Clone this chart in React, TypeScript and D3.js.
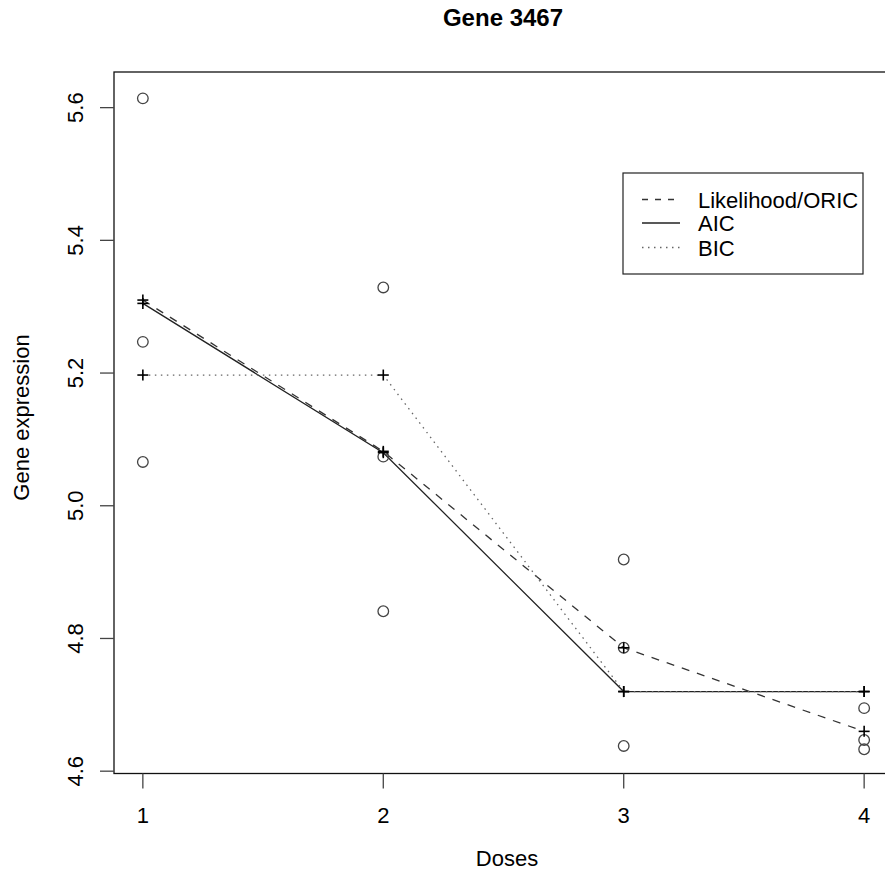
import React from "react";
import * as d3 from "d3";

// observed expression per dose
const doses = [1, 2, 3, 4];
const obsDose1 = [5.614, 5.247, 5.066];
const obsDose2 = [5.329, 5.074, 4.841];
const obsDose3 = [4.919, 4.786, 4.638];
const obsDose4 = [4.695, 4.647, 4.633];

// fitted curves
const fitOric = [5.31, 5.082, 4.786, 4.66];
const fitAic = [5.305, 5.08, 4.72, 4.72];
const fitBic = [5.197, 5.197, 4.72, 4.72];

const yTicks = [4.6, 4.8, 5.0, 5.2, 5.4, 5.6];
const xTicks = [1, 2, 3, 4];
const legendLabels = ["Likelihood/ORIC", "AIC", "BIC"];

const W = 885;
const H = 880;
const FONT = "'Liberation Sans', Arial, sans-serif";

export default function App() {
  const left = 114, right = 893, top = 72, bottom = 773.5;

  const x = d3.scaleLinear().domain([0.88, 4.12]).range([left, right]);
  const y = d3.scaleLinear().domain([4.5965, 5.6537]).range([bottom, top]);

  const obs = [obsDose1, obsDose2, obsDose3, obsDose4];
  const points = obs.flatMap((vals, i) => vals.map(v => ({ d: doses[i], v })));

  const line = d3.line<number>().x((_, i) => x(doses[i])).y(v => y(v));

  const fits = [
    { vals: fitOric, dash: "8,8", color: "#333", width: 1.3 },
    { vals: fitAic, dash: null, color: "#222", width: 1.3 },
    { vals: fitBic, dash: "1.5,4.5", color: "#666", width: 1.3 },
  ];

  const plus = (cx: number, cy: number, k: string) => (
    <g key={k} stroke="#000" strokeWidth={1.6}>
      <line x1={cx - 5.5} x2={cx + 5.5} y1={cy} y2={cy} />
      <line x1={cx} x2={cx} y1={cy - 5.5} y2={cy + 5.5} />
    </g>
  );

  const legX = 623, legY = 173, legW = 240, legH = 101;
  const rowY = [199.5, 223, 247.5];

  return (
    <svg width={W} height={H} style={{ position: "absolute", left: 0, top: 0, background: "#fff" }} fontFamily={FONT}>
      <rect x={0} y={0} width={W} height={H} fill="#fff" />

      <text x={503} y={26} textAnchor="middle" fontSize={24} fontWeight="bold">Gene 3467</text>

      {/* fitted lines */}
      {fits.map((f, i) => (
        <path key={i} d={line(f.vals) || ""} fill="none" stroke={f.color}
          strokeWidth={f.width} strokeDasharray={f.dash || undefined} />
      ))}

      {/* observations */}
      {points.map((p, i) => (
        <circle key={i} cx={x(p.d)} cy={y(p.v)} r={5.3} fill="none" stroke="#444" strokeWidth={1.3} />
      ))}

      {/* fitted points */}
      {fits.map((f, i) => f.vals.map((v, j) => plus(x(doses[j]), y(v), `${i}-${j}`)))}

      {/* box */}
      <rect x={left} y={top} width={right - left} height={bottom - top} fill="none" stroke="#111" strokeWidth={1.3} />

      {/* x axis */}
      {xTicks.map(t => (
        <g key={t}>
          <line x1={x(t)} x2={x(t)} y1={bottom} y2={bottom + 15} stroke="#444" strokeWidth={1.3} />
          <text x={x(t)} y={822.5} textAnchor="middle" fontSize={22}>{t}</text>
        </g>
      ))}
      <text x={507} y={866} textAnchor="middle" fontSize={22}>Doses</text>

      {/* y axis */}
      {yTicks.map(t => (
        <g key={t}>
          <line x1={left - 14} x2={left} y1={y(t)} y2={y(t)} stroke="#444" strokeWidth={1.3} />
          <text transform={`translate(83,${y(t)}) rotate(-90)`} textAnchor="middle" fontSize={22}>{t.toFixed(1)}</text>
        </g>
      ))}
      <text transform={`translate(29,417.5) rotate(-90)`} textAnchor="middle" fontSize={22}>Gene expression</text>

      {/* legend */}
      <rect x={legX} y={legY} width={legW} height={legH} fill="#fff" stroke="#222" strokeWidth={1.2} />
      {legendLabels.map((lab, i) => (
        <g key={lab}>
          <line x1={642} x2={680} y1={rowY[i]} y2={rowY[i]} stroke={fits[i].color}
            strokeWidth={1.3} strokeDasharray={i === 0 ? "6,7" : i === 2 ? "1.5,4.5" : undefined} />
          <text x={698} y={rowY[i] + 8} fontSize={22}>{lab}</text>
        </g>
      ))}
    </svg>
  );
}
